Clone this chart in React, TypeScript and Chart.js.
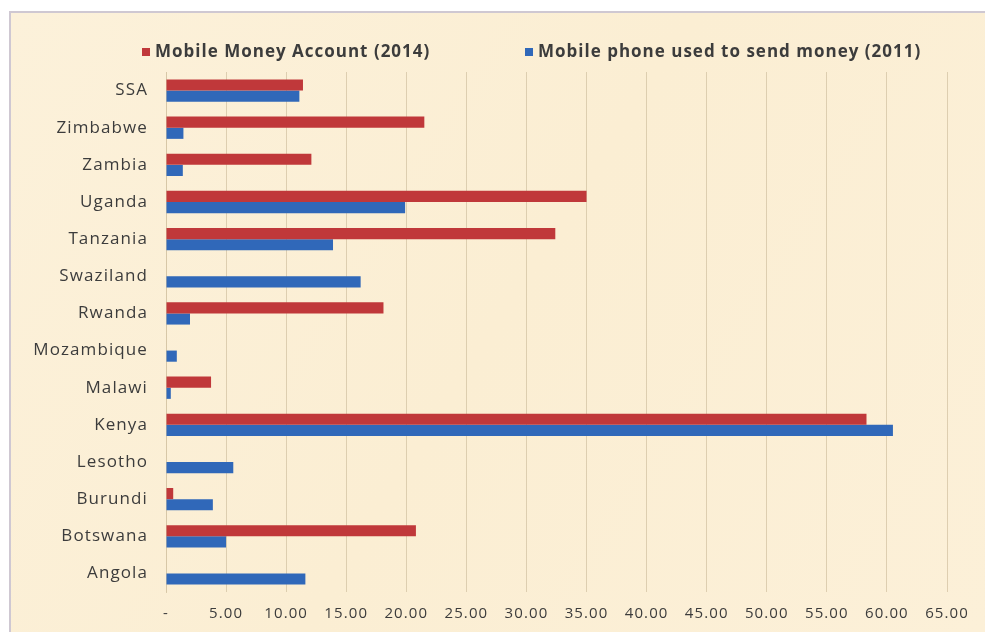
import React, { useEffect, useRef } from "react";
import { Chart, registerables } from "chart.js";

Chart.register(...registerables);

const categories = [
  "SSA", "Zimbabwe", "Zambia", "Uganda", "Tanzania", "Swaziland", "Rwanda",
  "Mozambique", "Malawi", "Kenya", "Lesotho", "Burundi", "Botswana", "Angola",
];
const mobileMoney2014 = [11.4, 21.5, 12.1, 35.0, 32.4, 0, 18.1, 0, 3.75, 58.3, 0, 0.6, 20.8, 0];
const phoneSend2011 = [11.1, 1.45, 1.4, 19.9, 13.9, 16.2, 2.0, 0.9, 0.4, 60.5, 5.6, 3.9, 5.0, 11.6];
const seriesNames = ["Mobile Money Account (2014)", "Mobile phone used to send money (2011)"];
const seriesColors = ["#C0383A", "#3068B9"];

const FONT = "'Open Sans', 'Lato', sans-serif";

const framePlugin = {
  id: "frame",
  beforeDraw(chart: any) {
    const { ctx, width, height } = chart;
    ctx.save();
    ctx.fillStyle = "#ffffff";
    ctx.fillRect(0, 0, width, height);
    const g = ctx.createLinearGradient(10, 12, width, height);
    g.addColorStop(0, "#FCF1DA");
    g.addColorStop(0.5, "#FBEED3");
    g.addColorStop(1, "#FCF0D8");
    ctx.fillStyle = g;
    ctx.fillRect(10, 12, width - 10, height - 12);
    ctx.strokeStyle = "#CFC8D2";
    ctx.lineWidth = 2;
    ctx.beginPath();
    ctx.moveTo(10, height);
    ctx.lineTo(10, 12);
    ctx.lineTo(width, 12);
    ctx.stroke();
    ctx.restore();
    (ctx as any).letterSpacing = "1.1px";
  },
  afterDraw(chart: any) {
    const { ctx } = chart;
    ctx.save();
    (ctx as any).letterSpacing = "1px";
    ctx.font = `bold 17px ${FONT}`;
    ctx.textBaseline = "middle";
    const items = [142, 525];
    items.forEach((x, i) => {
      ctx.fillStyle = seriesColors[i];
      ctx.fillRect(x, 48, 8, 8);
      ctx.fillStyle = "#3C3C3C";
      ctx.fillText(chart.data.datasets[i].label, x + 13, 52);
    });
    ctx.restore();
    (ctx as any).letterSpacing = "0px";
  },
};

export default function App() {
  const ref = useRef<HTMLCanvasElement>(null);
  useEffect(() => {
    if (!ref.current) return;
    const chart = new Chart(ref.current, {
      type: "bar",
      data: {
        labels: categories,
        datasets: [
          { label: seriesNames[0], data: mobileMoney2014, backgroundColor: seriesColors[0] },
          { label: seriesNames[1], data: phoneSend2011, backgroundColor: seriesColors[1] },
        ],
      },
      options: {
        indexAxis: "y",
        responsive: false,
        animation: false,
        maintainAspectRatio: false,
        datasets: { bar: { categoryPercentage: 0.6, barPercentage: 1 } },
        layout: { padding: { left: 10, top: 72, right: 38, bottom: 0 } },
        plugins: { legend: { display: false }, tooltip: { enabled: false } },
        scales: {
          x: {
            min: 0,
            max: 65,
            afterFit: (s: any) => { s.height = 40; },
            ticks: {
              stepSize: 5,
              padding: 13,
              color: "#3C3C3C",
              font: { family: FONT, size: 15 },
              callback: (v: any) => (Number(v) === 0 ? "-" : Number(v).toFixed(2)),
            },
            grid: { color: "rgba(214,198,166,0.8)", drawTicks: false },
            border: { display: false },
          },
          y: {
            afterFit: (s: any) => { s.width = 156; },
            ticks: {
              padding: 18,
              color: "#3C3C3C",
              font: { family: FONT, size: 17 },
            },
            grid: { display: false, drawTicks: false },
            border: { display: true, color: "rgba(214,198,166,0.9)" },
          },
        },
      },
      plugins: [framePlugin],
    });
    return () => chart.destroy();
  }, []);
  return (
    <div style={{ position: "absolute", left: 0, top: 0, width: 985, height: 632 }}>
      <canvas ref={ref} width={985} height={632} style={{ display: "block" }} />
    </div>
  );
}
